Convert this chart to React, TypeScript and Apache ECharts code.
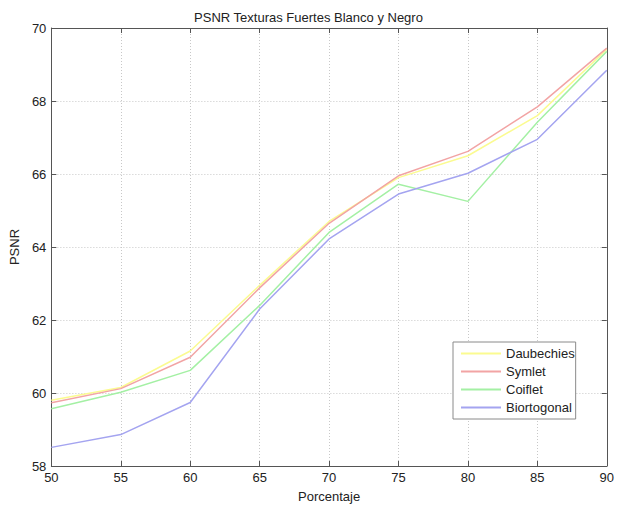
import React, { useEffect, useRef } from "react";
import * as echarts from "echarts";

const porcentaje = [50, 55, 60, 65, 70, 75, 80, 85, 90];
const daubechies = [59.8, 60.15, 61.15, 62.95, 64.7, 65.9, 66.5, 67.6, 69.42];
const symlet = [59.73, 60.12, 60.98, 62.88, 64.65, 65.95, 66.62, 67.84, 69.45];
const coiflet = [59.57, 60.02, 60.62, 62.4, 64.4, 65.72, 65.25, 67.42, 69.36];
const biortogonal = [58.51, 58.86, 59.74, 62.3, 64.22, 65.45, 66.02, 66.95, 68.84];

const seriesNames = ["Daubechies", "Symlet", "Coiflet", "Biortogonal"];
const seriesValues = [daubechies, symlet, coiflet, biortogonal];
const colors = ["#fbfb90", "#f2a4a4", "#a4f0a4", "#a4a4f0"];

export default function App() {
  const ref = useRef<HTMLDivElement>(null);
  useEffect(() => {
    if (!ref.current) return;
    const chart = echarts.init(ref.current, undefined, { renderer: "svg" });
    const font = "Liberation Sans, Arial, sans-serif";
    const gridLine = { show: true, lineStyle: { color: "#c8c8c8", type: [1, 2] as any, width: 1 } };
    chart.setOption({
      animation: false,
      backgroundColor: "#ffffff",
      textStyle: { fontFamily: font },
      title: {
        text: "PSNR Texturas Fuertes Blanco y Negro",
        left: "center",
        top: 6,
        textStyle: { fontSize: 13, fontWeight: "normal", color: "#222", fontFamily: font },
      },
      grid: { left: 46, right: 8, top: 28, bottom: 36, containLabel: false },
      legend: {
        orient: "vertical",
        left: 453,
        top: 342,
        backgroundColor: "#ffffff",
        borderColor: "#8a8a8a",
        borderWidth: 1,
        padding: [5, 1, 5, 8],
        itemGap: 5,
        itemWidth: 40,
        itemHeight: 2,
        icon: "rect",
        textStyle: { fontSize: 13, color: "#222", fontFamily: font, lineHeight: 13, height: 13 },
        data: seriesNames,
      },
      xAxis: [
        {
          type: "value",
          min: 50,
          max: 90,
          interval: 5,
          name: "Porcentaje",
          nameLocation: "middle",
          nameGap: 24,
          nameTextStyle: { fontSize: 13, color: "#222", fontFamily: font },
          axisLine: { show: true, onZero: false, lineStyle: { color: "#555" } },
          axisTick: { show: true, inside: true, length: 5, lineStyle: { color: "#555" } },
          axisLabel: { fontSize: 13, color: "#222", margin: 5, fontFamily: font },
          splitLine: gridLine,
        },
        {
          type: "value",
          position: "top",
          min: 50,
          max: 90,
          interval: 5,
          axisLine: { show: true, onZero: false, lineStyle: { color: "#555" } },
          axisTick: { show: true, inside: true, length: 5, lineStyle: { color: "#555" } },
          axisLabel: { show: false },
          splitLine: { show: false },
        },
      ],
      yAxis: [
        {
          type: "value",
          min: 58,
          max: 70,
          interval: 2,
          name: "PSNR",
          nameLocation: "middle",
          nameGap: 30,
          nameTextStyle: { fontSize: 13, color: "#222", fontFamily: font },
          axisLine: { show: true, onZero: false, lineStyle: { color: "#555" } },
          axisTick: { show: true, inside: true, length: 5, lineStyle: { color: "#555" } },
          axisLabel: { fontSize: 13, color: "#222", margin: 5, fontFamily: font },
          splitLine: gridLine,
        },
        {
          type: "value",
          position: "right",
          min: 58,
          max: 70,
          interval: 2,
          axisLine: { show: true, onZero: false, lineStyle: { color: "#555" } },
          axisTick: { show: true, inside: true, length: 5, lineStyle: { color: "#555" } },
          axisLabel: { show: false },
          splitLine: { show: false },
        },
      ],
      series: seriesNames.map((name, i) => ({
        name,
        type: "line",
        symbol: "none",
        showSymbol: false,
        data: porcentaje.map((x, j) => [x, seriesValues[i][j]]),
        lineStyle: { color: colors[i], width: 1.5 },
        itemStyle: { color: colors[i] },
        z: 2 + i,
      })),
    });
    return () => chart.dispose();
  }, []);
  return (
    <div
      ref={ref}
      style={{ position: "absolute", left: 0, top: 0, width: 617, height: 508 }}
    />
  );
}
